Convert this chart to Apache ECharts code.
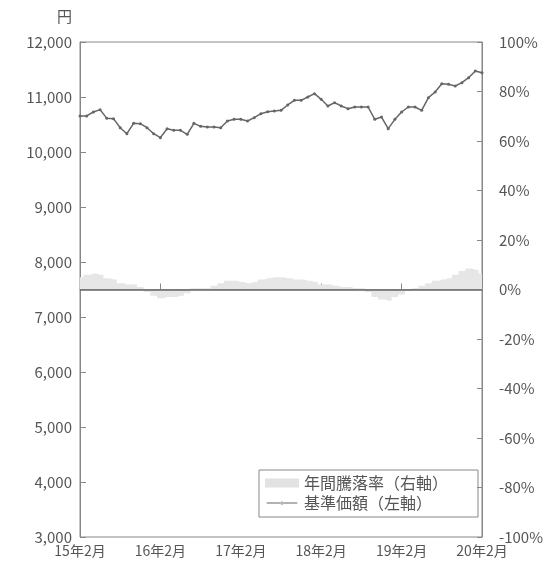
<!DOCTYPE html>
<html><head><meta charset="utf-8">
<script src="https://cdn.jsdelivr.net/npm/echarts@6/dist/echarts.min.js"></script>
<style>html,body{margin:0;padding:0;background:#fff}#c{width:551px;height:568px}</style>
</head><body><div id="c"></div>
<script>
const months = [
 '2015-02','2015-03','2015-04','2015-05','2015-06','2015-07','2015-08','2015-09','2015-10','2015-11','2015-12','2016-01',
 '2016-02','2016-03','2016-04','2016-05','2016-06','2016-07','2016-08','2016-09','2016-10','2016-11','2016-12','2017-01',
 '2017-02','2017-03','2017-04','2017-05','2017-06','2017-07','2017-08','2017-09','2017-10','2017-11','2017-12','2018-01',
 '2018-02','2018-03','2018-04','2018-05','2018-06','2018-07','2018-08','2018-09','2018-10','2018-11','2018-12','2019-01',
 '2019-02','2019-03','2019-04','2019-05','2019-06','2019-07','2019-08','2019-09','2019-10','2019-11','2019-12','2020-01',
 '2020-02'];
const tickLabels = {'2015-02':'15年2月','2016-02':'16年2月','2017-02':'17年2月','2018-02':'18年2月','2019-02':'19年2月','2020-02':'20年2月'};
const nav = [
 10655,10655,10727,10770,10612,10606,10442,10333,10521,10515,10442,10333,
 10261,10424,10394,10394,10321,10521,10467,10455,10455,10442,10564,10594,
 10594,10564,10624,10697,10733,10745,10758,10855,10940,10940,11000,11060,
 10958,10836,10897,10836,10788,10818,10818,10818,10594,10636,10424,10594,
 10727,10818,10818,10758,10988,11091,11242,11230,11200,11260,11351,11473,
 11442];
const annualReturn = [
 5,6,6.5,6,4.5,4,2.5,2,2,1,-1,-2.5,
 -3.5,-3,-3,-2.5,-1.5,0.5,0.5,0.5,1.5,2.5,3.5,3.5,
 3,2.5,3,4,4.5,5,5,4.5,4,4,3.5,3,
 2,2,1.5,1,1,0.5,0.5,-1,-3,-4,-4.5,-3,
 -2,-0.5,0.5,1.5,2.5,3.5,4,4.5,6,7.5,8.5,8,
 6.5];
const nameReturn = '年間騰落率（右軸）';
const nameNav = '基準価額（左軸）';

const font = '"Noto Sans CJK JP","Noto Sans",sans-serif';
const txt = '#555';
const lineIcon = 'path://M0,0L0.01,0L0.01,0.01Z M0,4.4H34V5.6H0Z M15.3,5a1.7,1.7 0 1,0 3.4,0a1.7,1.7 0 1,0 -3.4,0Z M34,10L33.99,10L33.99,9.99Z';
const chart = echarts.init(document.getElementById('c'));
chart.setOption({
  animation:false,
  textStyle:{fontFamily:font},
  grid:{left:80,right:69,top:42,bottom:31,show:true,borderColor:'#888',borderWidth:1},
  graphic:[{type:'text',left:57,top:9,style:{text:'円',font:'15px '+font,fill:txt}}],
  legend:{
    orient:'vertical',left:259,top:470,
    padding:[5,30,6,6],itemGap:4,
    borderColor:'#888',borderWidth:1,
    itemWidth:34,itemHeight:9,
    textStyle:{fontSize:16,color:txt,fontFamily:font},
    data:[{name:nameReturn,icon:'rect'},{name:nameNav,icon:lineIcon}]
  },
  xAxis:{
    type:'category',data:months,boundaryGap:false,
    axisLine:{lineStyle:{color:'#888'}},
    axisTick:{inside:true,length:6,interval:(i,v)=>!!tickLabels[v],lineStyle:{color:'#888'}},
    axisLabel:{interval:(i,v)=>!!tickLabels[v],formatter:v=>tickLabels[v]||'',color:txt,fontSize:14,margin:7,fontFamily:font}
  },
  yAxis:[
    {type:'value',min:3000,max:12000,interval:1000,
     splitLine:{show:false},
     axisLine:{show:true,lineStyle:{color:'#888'}},
     axisTick:{show:true,inside:true,length:6,lineStyle:{color:'#888'}},
     axisLabel:{color:txt,fontSize:15,margin:8,formatter:v=>v.toLocaleString('en-US'),fontFamily:font}},
    {type:'value',min:-100,max:100,interval:20,position:'right',
     splitLine:{show:false},
     axisLine:{show:true,lineStyle:{color:'#888'}},
     axisTick:{show:true,inside:true,length:5,lineStyle:{color:'#888'}},
     axisLabel:{color:txt,fontSize:15,margin:17,formatter:'{value}%',fontFamily:font}}
  ],
  series:[
    {name:nameReturn,type:'line',yAxisIndex:1,data:annualReturn,step:'middle',
     symbol:'none',lineStyle:{width:0},itemStyle:{color:'#e2e2e2'},
     areaStyle:{color:'#e6e6e6',opacity:1},
     markLine:{silent:true,symbol:'none',label:{show:false},
       lineStyle:{color:'#666',width:1.5,type:'solid'},data:[{yAxis:0}]}},
    {name:nameNav,type:'line',yAxisIndex:0,data:nav,
     symbol:'circle',symbolSize:3,showAllSymbol:true,
     itemStyle:{color:'#666'},lineStyle:{color:'#666',width:1.5}}
  ]
});
</script></body></html>
